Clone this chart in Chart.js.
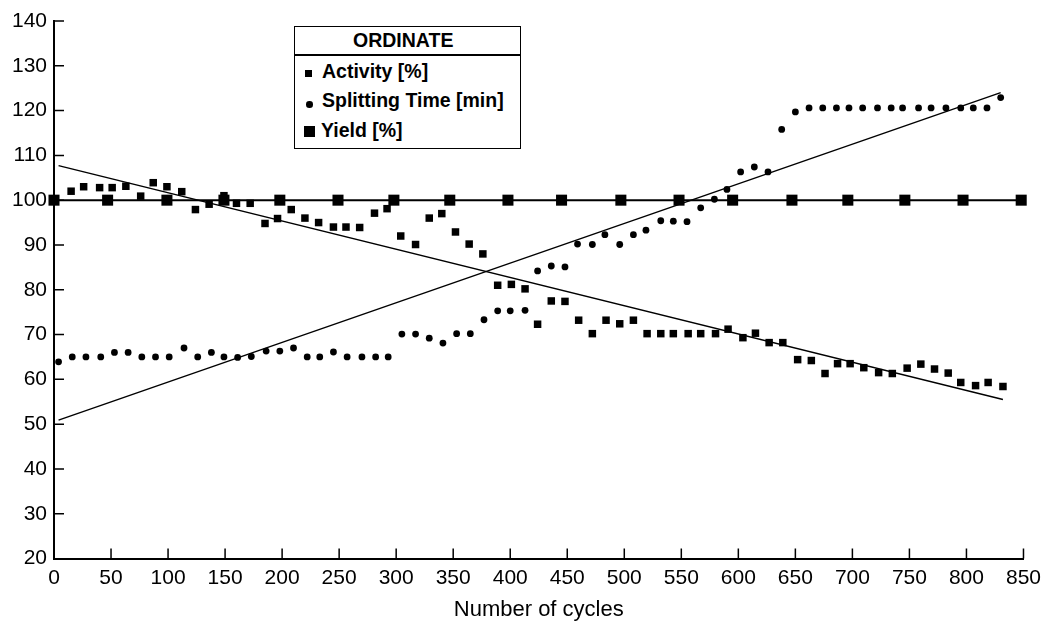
<!DOCTYPE html>
<html>
<head>
<meta charset="utf-8">
<script src="https://cdn.jsdelivr.net/npm/chart.js@4/dist/chart.umd.min.js"></script>
<style>
  html, body { margin: 0; padding: 0; background: #fff; }
  #wrap { position: relative; width: 1048px; height: 623px; }
  #c { position: absolute; left: 0; top: 0; }
  #legend {
    position: absolute; left: 294px; top: 26px;
    width: 225px; height: 121px;
    border: 1.5px solid #000; background: #fff;
    font-family: "Liberation Sans", Arial, Helvetica, sans-serif;
    font-weight: bold; font-size: 19.5px; color: #000;
  }
  #legend .t { position: absolute; line-height: 20px; white-space: nowrap; }
  #legend .sep { position: absolute; left: 0; top: 27px; width: 100%; height: 1.5px; background: #000; }
  #legend .m { position: absolute; background: #000; }
</style>
</head>
<body>
<div id="wrap">
  <canvas id="c" width="1048" height="623"></canvas>
  <div id="legend">
    <div class="t" style="left:58px; top:3px;">ORDINATE</div>
    <div class="sep"></div>
    <div class="m" style="left:10px; top:43px; width:6.5px; height:6.5px;"></div>
    <div class="t" style="left:27px; top:34px;">Activity [%]</div>
    <div class="m" style="left:11px; top:74px; width:6.5px; height:6.5px; border-radius:50%;"></div>
    <div class="t" style="left:27px; top:63px;">Splitting Time [min]</div>
    <div class="m" style="left:8.5px; top:98.5px; width:11px; height:11px;"></div>
    <div class="t" style="left:26px; top:92.5px;">Yield [%]</div>
  </div>
</div>
<script>
// ---- data ----
const xTickValues = [0, 50, 100, 150, 200, 250, 300, 350, 400, 450, 500, 550, 600, 650, 700, 750, 800, 850];
const yTickValues = [20, 30, 40, 50, 60, 70, 80, 90, 100, 110, 120, 130, 140];

const activityX = [15, 26, 40, 51, 63, 76, 87, 99, 112, 124, 136, 149, 160, 172, 185, 196, 208, 220, 232, 245,
  256, 268, 281, 292, 304, 317, 329, 340, 352, 364, 376, 389, 401, 413, 424, 436, 448, 460, 472, 484,
  496, 508, 520, 532, 543, 556, 567, 580, 591, 604, 615, 627, 639, 652, 664, 676, 687, 698, 710, 723,
  735, 748, 760, 772, 784, 795, 808, 819, 832];
const activityY = [102.0, 103.0, 102.8, 102.8, 103.1, 100.9, 103.9, 103.0, 101.9, 97.9, 99.1, 101.0, 99.3, 99.3, 94.8, 95.9, 97.9, 96.0, 95.0, 94.0,
  94.0, 93.9, 97.1, 98.1, 92.0, 90.1, 96.0, 97.0, 92.9, 90.2, 88.0, 81.0, 81.2, 80.2, 72.3, 77.5, 77.4, 73.2, 70.2, 73.2,
  72.4, 73.2, 70.2, 70.2, 70.2, 70.2, 70.2, 70.2, 71.2, 69.3, 70.3, 68.2, 68.2, 64.4, 64.2, 61.3, 63.5, 63.5, 62.6, 61.5,
  61.3, 62.5, 63.4, 62.3, 61.4, 59.3, 58.6, 59.3, 58.4];

const splitX = [4, 16, 28, 41, 53, 65, 77, 89, 101, 114, 126, 138, 149, 161, 173, 186, 198, 210, 222, 233,
  245, 257, 270, 282, 293, 305, 317, 329, 341, 353, 365, 377, 389, 400, 413, 424, 436, 448, 459, 472,
  483, 496, 508, 519, 532, 543, 555, 567, 579, 590, 602, 614, 626, 638, 650, 662, 674, 686, 697, 709,
  722, 734, 744, 758, 769, 782, 795, 806, 818, 830];
const splitY = [63.9, 65.0, 65.0, 65.0, 66.0, 66.0, 65.0, 65.0, 65.0, 67.0, 65.0, 66.0, 65.0, 64.9, 65.1, 66.3, 66.3, 67.0, 65.0, 65.0,
  66.1, 65.0, 65.0, 65.0, 65.0, 70.1, 70.1, 69.2, 68.1, 70.2, 70.2, 73.3, 75.3, 75.3, 75.4, 84.2, 85.3, 85.1, 90.2, 90.1,
  92.3, 90.1, 92.3, 93.3, 95.4, 95.3, 95.2, 98.3, 100.2, 102.4, 106.3, 107.4, 106.3, 115.8, 119.7, 120.6, 120.6, 120.6, 120.6, 120.6,
  120.6, 120.6, 120.6, 120.6, 120.6, 120.6, 120.6, 120.6, 120.6, 122.9];

const yieldX = [0, 47, 99, 149, 198, 249, 298, 347, 398, 445, 497, 548, 595, 647, 696, 746, 797, 848];
const yieldY = [100, 100, 100, 100, 100, 100, 100, 100, 100, 100, 100, 100, 100, 100, 100, 100, 100, 100];

const activityTrendX = [4, 832];
const activityTrendY = [107.7, 55.5];
const splitTrendX = [4, 830];
const splitTrendY = [50.9, 124.0];

// ---- chart ----
const FONT = '"Liberation Sans", Arial, Helvetica, sans-serif';
const pts = (xs, ys) => xs.map((x, i) => ({ x: x, y: ys[i] }));

const innerTicks = {
  id: 'innerTicks',
  afterDraw(chart) {
    const { ctx, chartArea: a } = chart;
    const xs = chart.scales.x, ys = chart.scales.y;
    ctx.save();
    ctx.strokeStyle = '#000';
    ctx.lineWidth = 1.5;
    ctx.beginPath();
    yTickValues.forEach(v => {
      if (v === yTickValues[0]) return;
      const py = ys.getPixelForValue(v);
      ctx.moveTo(a.left, py);
      ctx.lineTo(a.left + 10, py);
    });
    xTickValues.forEach(v => {
      if (v === xTickValues[0]) return;
      const px = xs.getPixelForValue(v);
      ctx.moveTo(px, a.bottom);
      ctx.lineTo(px, a.bottom - 10);
    });
    ctx.stroke();
    ctx.restore();
  }
};

new Chart(document.getElementById('c'), {
  type: 'scatter',
  data: {
    datasets: [
      { label: 'Activity [%]', data: pts(activityX, activityY), pointStyle: 'rect', pointRadius: 5.3,
        backgroundColor: '#000', borderColor: '#000', pointBorderWidth: 0, showLine: false, clip: false },
      { label: 'Splitting Time [min]', data: pts(splitX, splitY), pointStyle: 'circle', pointRadius: 3.4,
        backgroundColor: '#000', borderColor: '#000', pointBorderWidth: 0, showLine: false, clip: false },
      { label: 'Yield [%]', data: pts(yieldX, yieldY), pointStyle: 'rect', pointRadius: 7.8,
        backgroundColor: '#000', borderColor: '#000', borderWidth: 2, pointBorderWidth: 0, showLine: true, clip: false },
      { label: 'Activity trend', data: pts(activityTrendX, activityTrendY), showLine: true, pointRadius: 0,
        borderColor: '#000', borderWidth: 1.4, clip: false },
      { label: 'Splitting Time trend', data: pts(splitTrendX, splitTrendY), showLine: true, pointRadius: 0,
        borderColor: '#000', borderWidth: 1.4, clip: false }
    ]
  },
  options: {
    responsive: false,
    animation: false,
    devicePixelRatio: 1,
    layout: { padding: { left: 0, right: 22, top: 21, bottom: 0 } },
    plugins: { legend: { display: false }, tooltip: { enabled: false } },
    scales: {
      x: {
        type: 'linear', min: 0, max: 850,
        afterBuildTicks: s => { s.ticks = xTickValues.map(v => ({ value: v })); },
        afterFit: s => { s.height = 64.5; },
        grid: { display: false, drawTicks: false },
        border: { display: true, color: '#000', width: 2 },
        ticks: { padding: 7, color: '#000', font: { family: FONT, size: 21 }, maxRotation: 0, autoSkip: false },
        title: { display: true, text: 'Number of cycles', color: '#000', font: { family: FONT, size: 22 }, padding: 0 }
      },
      y: {
        type: 'linear', min: 20, max: 140,
        afterBuildTicks: s => { s.ticks = yTickValues.map(v => ({ value: v })); },
        afterFit: s => { s.width = 54; },
        grid: { display: false, drawTicks: false },
        border: { display: true, color: '#000', width: 2 },
        ticks: { padding: 7, color: '#000', font: { family: FONT, size: 21 }, autoSkip: false }
      }
    }
  },
  plugins: [innerTicks]
});
</script>
</body>
</html>
